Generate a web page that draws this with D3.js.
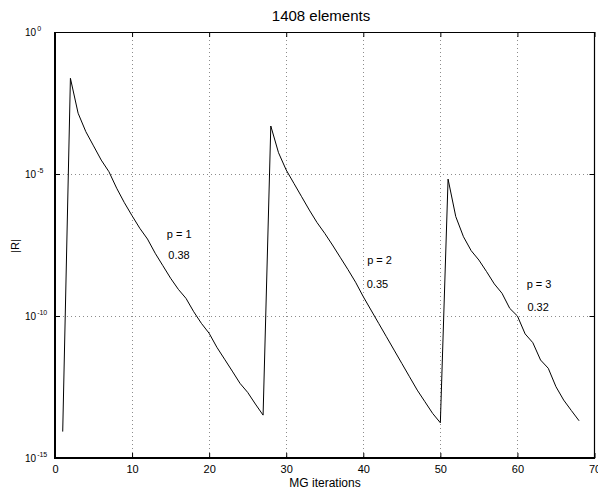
<!DOCTYPE html>
<html>
<head>
<meta charset="utf-8">
<script src="https://cdn.jsdelivr.net/npm/d3@7"></script>
<style>
  html, body { margin: 0; padding: 0; background: #fff; }
  svg { display: block; }
  text { font-family: "Liberation Sans", Arial, Helvetica, sans-serif; fill: #000; }
</style>
</head>
<body>
<svg id="chart" width="598" height="494"></svg>
<script>
// ---- data ----
const titleText = "1408 elements";
const xLabel = "MG iterations";
const yLabel = "|R|";
const iterations = [1,2,3,4,5,6,7,8,9,10,11,12,13,14,15,16,17,18,19,20,21,22,23,24,25,26,27,
  28,29,30,31,32,33,34,35,36,37,38,39,40,41,42,43,44,45,46,47,48,49,50,
  51,52,53,54,55,56,57,58,59,60,61,62,63,64,65,66,67,68];
// log10 of the residual norm |R|
const log10Residual = [
  -14.07, -1.63, -2.86, -3.51, -4.01, -4.51, -4.92, -5.50, -6.01, -6.47,
  -6.91, -7.29, -7.79, -8.23, -8.67, -9.06, -9.38, -9.85, -10.26, -10.61,
  -11.10, -11.52, -11.94, -12.37, -12.69, -13.10, -13.49,
  -3.31, -4.25, -4.86, -5.33, -5.80, -6.27, -6.71, -7.09, -7.50, -7.93,
  -8.36, -8.81, -9.32, -9.79, -10.26, -10.73, -11.20, -11.67, -12.14, -12.61,
  -13.02, -13.43, -13.76,
  -5.18, -6.50, -7.21, -7.70, -8.03, -8.44, -8.87, -9.20, -9.73, -10.00,
  -10.63, -10.94, -11.55, -11.84, -12.49, -12.96, -13.33, -13.69
];
const xTicks = [0, 10, 20, 30, 40, 50, 60, 70];
const yTickExponents = [0, -5, -10, -15];
const annotationText = ["p = 1", "0.38", "p = 2", "0.35", "p = 3", "0.32"];
const annotationX = [14.5, 14.7, 40.5, 40.45, 61.2, 61.3];
const annotationLog10Y = [-7.25, -8.0, -8.17, -9.0, -9.0, -9.81];

// ---- layout ----
const svg = d3.select("#chart");
const pLeft = 55, pRight = 594.5, pTop = 32, pBottom = 458;

const x = d3.scaleLinear().domain([0, 70]).range([pLeft, pRight]);
const y = d3.scaleLog().domain([1e-15, 1]).range([pBottom, pTop]);

const data = iterations.map((it, i) => ({ x: it, y: Math.pow(10, log10Residual[i]) }));

// grid
const grid = svg.append("g").attr("stroke", "#8c8c8c").attr("stroke-width", 1)
  .attr("stroke-dasharray", "1,3");
xTicks.filter(t => t > 0 && t < 70).forEach(t => {
  grid.append("line").attr("x1", Math.round(x(t)) + 0.5).attr("x2", Math.round(x(t)) + 0.5)
    .attr("y1", pTop).attr("y2", pBottom);
});
yTickExponents.filter(e => e < 0 && e > -15).forEach(e => {
  const yy = Math.round(y(Math.pow(10, e))) + 0.5;
  grid.append("line").attr("x1", pLeft).attr("x2", pRight).attr("y1", yy).attr("y2", yy);
});

// axes with inward ticks
const xAxisB = d3.axisBottom(x).tickValues(xTicks).tickSizeInner(-5).tickSizeOuter(0).tickPadding(7);
const gxb = svg.append("g").attr("transform", `translate(0,${pBottom})`).call(xAxisB);
gxb.select(".domain").remove();
gxb.selectAll("text").attr("font-size", 11).attr("font-family", "Liberation Sans, Arial, sans-serif").attr("fill", "#000");
gxb.selectAll("line").attr("stroke", "#000");

const xAxisT = d3.axisTop(x).tickValues(xTicks).tickSizeInner(-5).tickSizeOuter(0).tickFormat("");
const gxt = svg.append("g").attr("transform", `translate(0,${pTop})`).call(xAxisT);
gxt.select(".domain").remove();
gxt.selectAll("line").attr("stroke", "#000");

const yTickVals = yTickExponents.map(e => Math.pow(10, e));
const yAxisL = d3.axisLeft(y).tickValues(yTickVals).tickSizeInner(-5).tickSizeOuter(0).tickFormat("");
const gyl = svg.append("g").attr("transform", `translate(${pLeft},0)`).call(yAxisL);
gyl.select(".domain").remove();
gyl.selectAll("line").attr("stroke", "#000");
const yAxisR = d3.axisRight(y).tickValues(yTickVals).tickSizeInner(-5).tickSizeOuter(0).tickFormat("");
const gyr = svg.append("g").attr("transform", `translate(${pRight},0)`).call(yAxisR);
gyr.select(".domain").remove();
gyr.selectAll("line").attr("stroke", "#000");

// y tick labels 10^e
yTickExponents.forEach(e => {
  const yy = y(Math.pow(10, e));
  const t = svg.append("text").attr("x", 25).attr("y", yy + 3.5).attr("font-size", 10);
  t.append("tspan").text("10");
  t.append("tspan").attr("font-size", 7).attr("dy", -5).attr("dx", 1).text(String(e));
});

// frame
svg.append("line").attr("x1", pLeft).attr("x2", pRight).attr("y1", pTop + 0.5).attr("y2", pTop + 0.5)
  .attr("stroke", "#000").attr("stroke-width", 1);
svg.append("line").attr("x1", pRight).attr("x2", pRight).attr("y1", pTop).attr("y2", pBottom)
  .attr("stroke", "#000").attr("stroke-width", 1.2);
svg.append("line").attr("x1", pLeft).attr("x2", pLeft).attr("y1", pTop).attr("y2", pBottom + 1)
  .attr("stroke", "#000").attr("stroke-width", 2);
svg.append("line").attr("x1", pLeft - 1).attr("x2", pRight + 0.6).attr("y1", pBottom).attr("y2", pBottom)
  .attr("stroke", "#000").attr("stroke-width", 2);

// line
const line = d3.line().x(d => x(d.x)).y(d => y(d.y));
svg.append("path").datum(data).attr("d", line)
  .attr("fill", "none").attr("stroke", "#000").attr("stroke-width", 1).attr("stroke-linejoin", "round");

// annotations
annotationText.forEach((s, i) => {
  svg.append("text").attr("x", x(annotationX[i])).attr("y", y(Math.pow(10, annotationLog10Y[i])))
    .attr("font-size", 11).text(s);
});

// title & labels
svg.append("text").attr("x", 321).attr("y", 21).attr("text-anchor", "middle")
  .attr("font-size", 15).text(titleText);
svg.append("text").attr("x", 325).attr("y", 487).attr("text-anchor", "middle")
  .attr("font-size", 12).text(xLabel);
svg.append("text").attr("transform", "translate(19,246) rotate(-90)").attr("text-anchor", "middle")
  .attr("font-size", 11).text(yLabel);
</script>
</body>
</html>
